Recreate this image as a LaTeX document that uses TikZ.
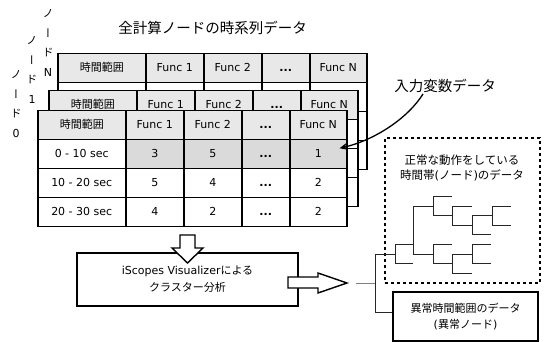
\documentclass[tikz,border=0pt]{standalone}
\usepackage{fontspec}
\setmainfont{DejaVu Sans}
\newfontfamily\jp{Noto Sans CJK JP}
\newfontfamily\jpv[RawFeature=+vert]{Noto Sans CJK JP}
\usetikzlibrary{arrows.meta,calc}

\definecolor{hdrgray}{HTML}{E8E8E8}
\definecolor{rowgray}{HTML}{DADADA}
\definecolor{stubgray}{HTML}{808080}

\tikzset{
  cell/.style={draw=black, line width=1.5pt, fill=white, inner sep=0pt,
    minimum height=29pt, anchor=north west, text height=8.5pt, text depth=2.5pt,
    font=\fontsize{11}{13}\selectfont},
  hcell/.style={cell, fill=hdrgray},
  blockarrow/.style={draw=black, line width=1.4pt, fill=white, line join=miter},
  treeline/.style={draw=black!85, line width=0.9pt},
  vlabel/.style={align=center, inner sep=0pt, font=\fontsize{11}{19.5}\selectfont},
  bigtext/.style={inner sep=1pt, font=\jp\fontsize{14.5}{16}\selectfont},
  bodytext/.style={align=center, font=\fontsize{11}{16}\selectfont},
}

% header row of one node's table
\newcommand{\tablehead}[3]{%
  \foreach \ci/\xo/\colw/\txt in {1/0/88/{\jp 時間範囲},2/88/58/{Func 1},3/146/58/{Func 2},4/204/48/{\textbf{...}},5/252/57/{Func N}}{
    \node[hcell, minimum width=\colw pt] (#1-0-\ci) at ({#2+\xo},{#3}) {\txt};
  }%
}
% empty body rows of a table lying behind another
\newcommand{\blankrows}[3]{%
  \foreach \ri in {1,2,3}{
    \foreach \ci/\xo/\colw in {1/0/88,2/88/58,3/146/58,4/204/48,5/252/57}{
      \node[cell, minimum width=\colw pt] (#1-\ri-\ci) at ({#2+\xo},{#3+29*\ri}) {};
    }
  }%
}

\begin{document}
\begin{tikzpicture}[x=1pt, y=-1pt]
\useasboundingbox (0,0) rectangle (544,342);

% title
\node[bigtext] (title) at (212.5,28) {全計算ノードの時系列データ};

% vertical node labels
\node[vlabel] (lblN) at (48,43) {{\jpv ノ}\\{\jpv ー}\\{\jpv ド}\\N};
\node[vlabel] (lbl1) at (32,70) {{\jpv ノ}\\{\jpv ー}\\{\jpv ド}\\1};
\node[vlabel] (lbl0) at (16,104) {{\jpv ノ}\\{\jpv ー}\\{\jpv ド}\\0};

% stacked tables: node N, node 1, node 0
\tablehead{back}{57}{53}
\blankrows{back}{57}{53}
\tablehead{mid}{48}{90}
\blankrows{mid}{48}{90}
\tablehead{front}{37}{110}
\foreach \ri/\ta/\tb/\tc/\te/\fc in {1/{0 - 10 sec}/3/5/1/rowgray,2/{10 - 20 sec}/5/4/2/white,3/{20 - 30 sec}/4/2/2/white}{
  \node[cell, minimum width=88pt] (front-\ri-1) at (37,{110+29*\ri}) {\ta};
  \node[cell, fill=\fc, minimum width=58pt] (front-\ri-2) at (125,{110+29*\ri}) {\tb};
  \node[cell, fill=\fc, minimum width=58pt] (front-\ri-3) at (183,{110+29*\ri}) {\tc};
  \node[cell, fill=\fc, minimum width=48pt] (front-\ri-4) at (241,{110+29*\ri}) {\textbf{...}};
  \node[cell, fill=\fc, minimum width=57pt] (front-\ri-5) at (289,{110+29*\ri}) {\te};
}

% input variable label and its arrow
\node[bigtext] (inp) at (445,86) {入力変数データ};
\draw[line width=1.3pt, -{Stealth[length=8pt, width=7pt]}]
  ($(inp.south)+(-22,0)$) .. controls (408,118) and (375,140) .. ($(front-1-5.east)+(-8,-6)$);

% clustering box
\node[draw=black, line width=1.4pt, fill=white, minimum width=221pt, minimum height=53pt,
  inner sep=0pt, bodytext, font=\fontsize{11}{17}\selectfont] (vis) at (187.5,279.5)
  {iScopes Visualizer{\jp による}\\{\jp クラスター分析}};

% block arrows
\draw[blockarrow] (180,235) -- (195,235) -- (195,248) -- (203,248) -- (187.5,263)
  -- (172,248) -- (180,248) -- cycle;
\draw[blockarrow] (288,277) -- (318,277) -- (318,273) -- (347,283) -- (318,293)
  -- (318,288) -- (288,288) -- cycle;

% normal-behaviour region
\node[draw=black, dash pattern=on 3pt off 3pt, line width=1.5pt, minimum width=155pt,
  minimum height=145pt, inner sep=0pt] (norm) at (462.5,210.5) {};
\node[bodytext, font=\fontsize{11.5}{15}\selectfont] (normtxt) at (462,167.5)
  {{\jp 正常な動作をしている}\\{\jp 時間帯}({\jp ノード}){\jp のデータ}};

% abnormal range box
\node[draw=black, line width=1.6pt, fill=white, minimum width=145pt, minimum height=49pt,
  inner sep=0pt, bodytext, font=\fontsize{11}{16}\selectfont] (abn) at (465.5,316.5)
  {{\jp 異常時間範囲のデータ}\\({\jp 異常ノード})};

% dendrogram
\coordinate (rootbot) at (375,312);
\draw[stubgray, line width=1pt] (356,283) -- (375,283);
\draw[treeline] (375,254) -- (rootbot);
\draw[treeline] (rootbot) -- (rootbot -| abn.west);
\draw[treeline] (375,254) -- (395,254);
\draw[treeline] (413,244) -- (395,244) -- (395,263) -- (413,263);
\draw[treeline] (433,206) -- (413,206) -- (413,254) -- (433,254);
% upper cluster
\draw[treeline] (452,196) -- (433,196) -- (433,215) -- (452,215);
\draw[treeline] (472,206) -- (452,206) -- (452,225) -- (472,225);
\draw[treeline] (492,215) -- (472,215) -- (472,234) -- (491,234);
\draw[treeline] (511,206) -- (492,206) -- (492,225) -- (511,225);
% lower cluster
\draw[treeline] (452,244) -- (433,244) -- (433,263) -- (452,263);
\draw[treeline] (472,254) -- (452,254) -- (452,273) -- (472,273);
\draw[treeline] (491,244) -- (472,244) -- (472,263) -- (491,263);
\end{tikzpicture}
\end{document}
